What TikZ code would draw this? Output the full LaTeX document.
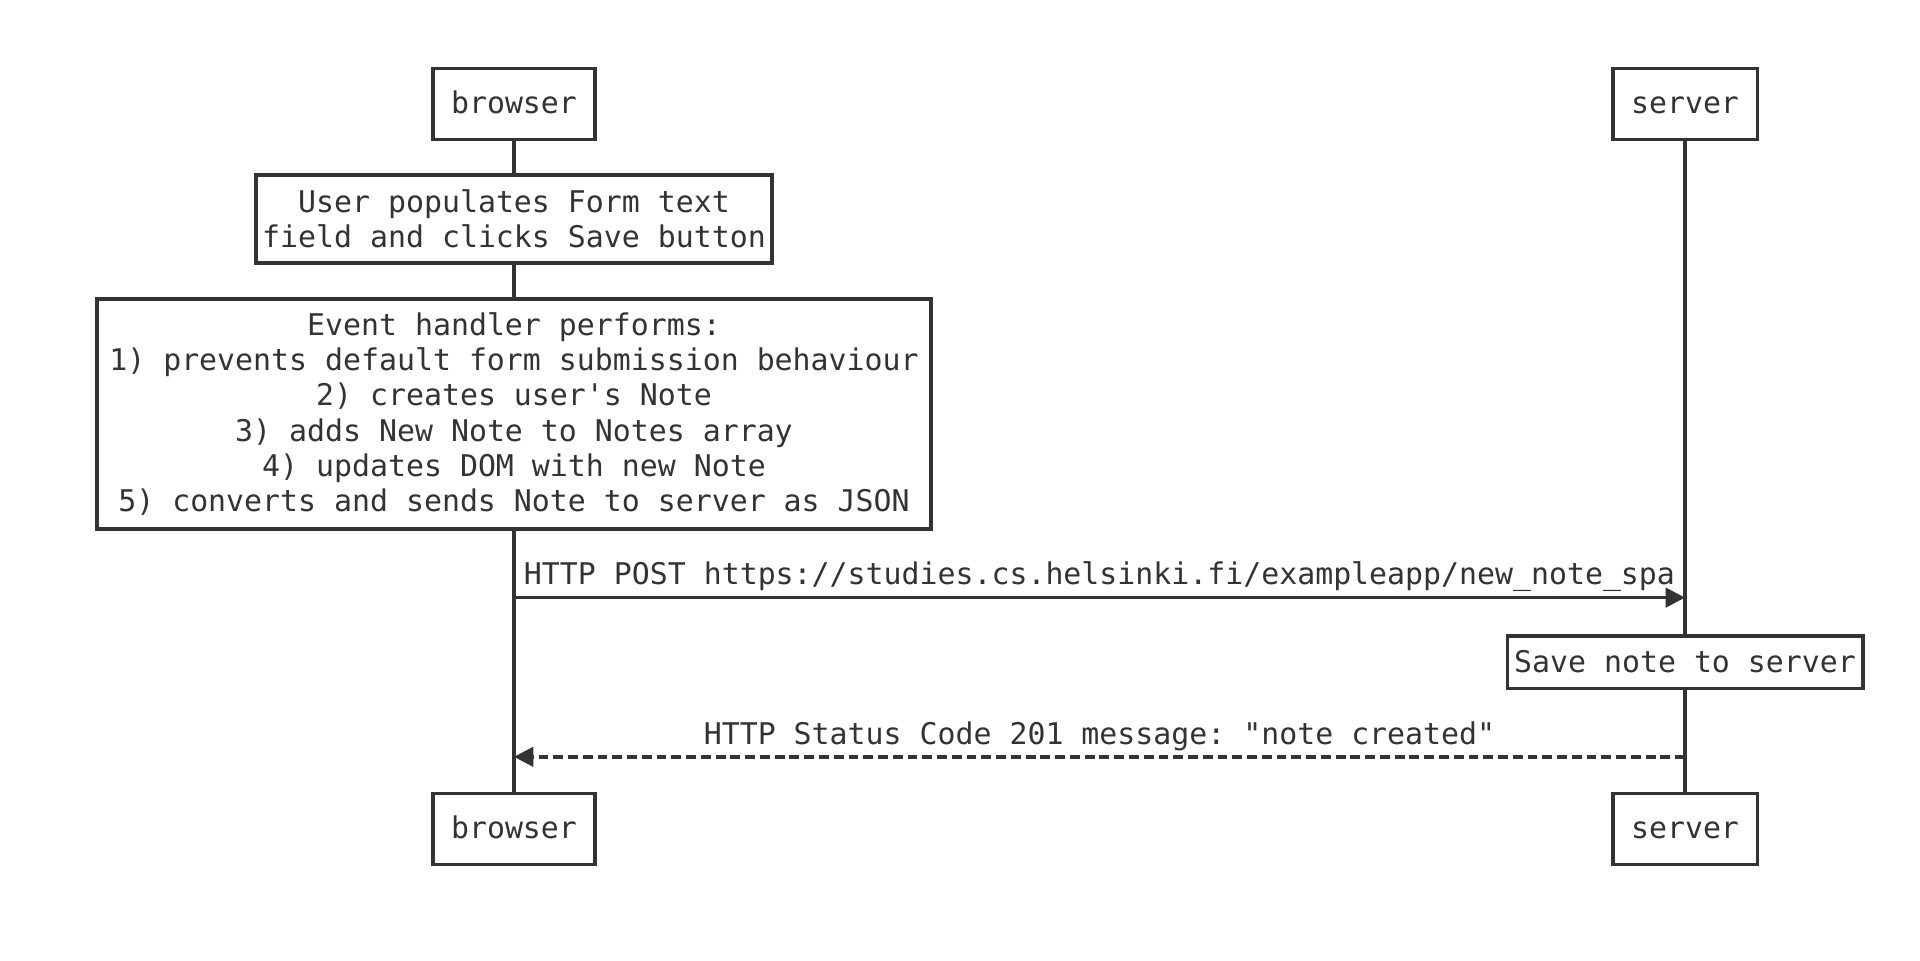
\documentclass[tikz,border=0pt]{standalone}
\usepackage{fontspec}
\setmonofont{DejaVu Sans Mono}
\usetikzlibrary{arrows.meta}
\definecolor{ink}{HTML}{333333}

\begin{document}
\begin{tikzpicture}[>={Triangle[length=5.5pt,width=5.5pt]},
    every node/.style={font=\ttfamily\fontsize{8.5}{10}\selectfont,text=ink},
    actor/.style={draw=ink,line width=1pt,rectangle,minimum height=0.71cm,text height=1.6ex,text depth=0.3ex},
    notebox/.style={draw=ink,line width=1pt,rectangle,align=center,inner sep=1pt},
    lifeline/.style={draw=ink,line width=1pt},
    msg/.style={draw=ink,line width=1pt,->}]
            \useasboundingbox (0,0) rectangle (19.2,-9.6);
            % participants
            \node [actor,minimum width=1.615cm] (b1) at (5.14,-1.04) {browser};
            \node [actor,minimum width=1.445cm] (s1) at (16.85,-1.04) {server};
            \node [actor,minimum width=1.615cm] (b2) at (5.14,-8.29) {browser};
            \node [actor,minimum width=1.445cm] (s2) at (16.85,-8.29) {server};
            % notes
            \node [notebox,minimum width=5.157cm,minimum height=0.88cm] (user) at (5.14,-2.19) {User populates Form text\\field and clicks Save button};
            \node [notebox,minimum width=8.34cm,minimum height=2.30cm] (event) at (5.14,-4.14) {Event handler performs:\\1) prevents default form submission behaviour\\2) creates user's Note\\3) adds New Note to Notes array\\4) updates DOM with new Note\\5) converts and sends Note to server as JSON};
            \node [notebox,minimum width=3.555cm,minimum height=0.525cm] (save) at (16.85,-6.62) {Save note to server};
            % lifelines
            \draw [lifeline] (b1) -- (user);
            \draw [lifeline] (user) -- (event);
            \draw [lifeline] (event) -- (b2);
            \draw [lifeline] (s1) -- (save);
            \draw [lifeline] (save) -- (s2);
            % messages
            \coordinate (post1) at (5.14,-5.976);
            \coordinate (post2) at (16.85,-5.976);
            \coordinate (ret1) at (5.14,-7.568);
            \coordinate (ret2) at (16.85,-7.568);
            \draw [msg] (post1) -- node [above=-2.2pt] {HTTP POST https://studies.cs.helsinki.fi/exampleapp/new\_note\_spa} (post2);
            \draw [msg,dash pattern=on 2.8pt off 1.4pt] (ret2) -- node [above=-2.2pt] {HTTP Status Code 201 message: "note created"} (ret1);
        \end{tikzpicture}
\end{document}
